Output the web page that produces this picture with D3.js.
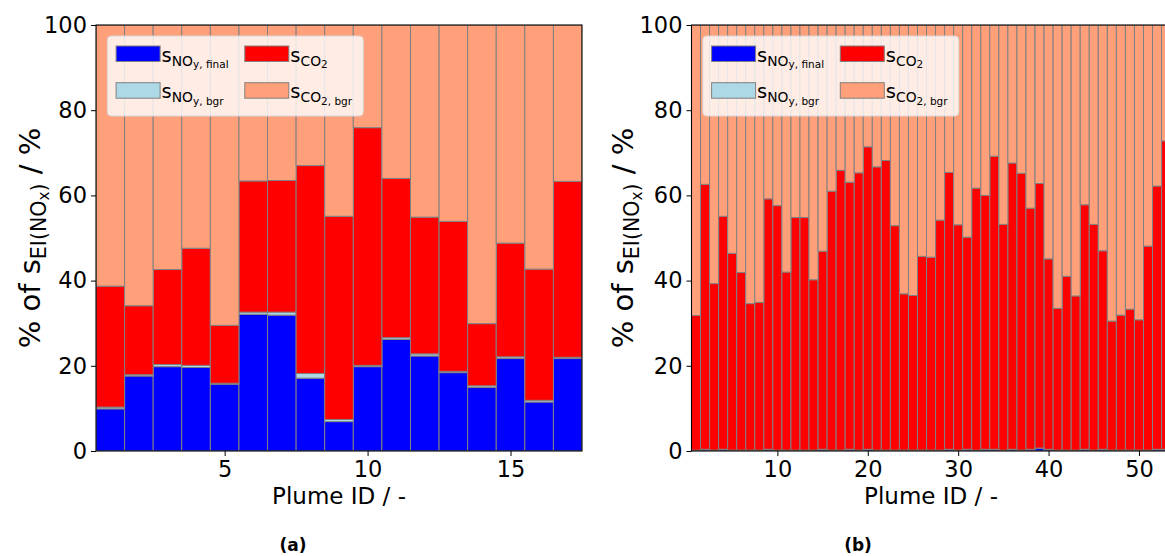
<!DOCTYPE html>
<html>
<head>
<meta charset="utf-8">
<script src="https://cdn.jsdelivr.net/npm/d3@7"></script>
<style>
  body { margin: 0; background: #fff; }
  svg { display: block; }
  text { font-family: "DejaVu Sans", sans-serif; fill: #000; white-space: pre; }
</style>
</head>
<body>
<svg id="fig" width="1165" height="556"></svg>
<script>
// ---- Panel (a): 17 plumes, shares in % of s_EI(NOx) ----
const plumesA = d3.range(1, 18);
const noyFinalA = [9.9, 17.6, 19.8, 19.6, 15.7, 32.1, 31.9, 17.1, 6.9, 19.8, 26.2, 22.3, 18.4, 14.9, 21.7, 11.5, 21.7];
const noyBgrA   = [0.4, 0.3, 0.5, 0.5, 0.2, 0.5, 0.7, 1.1, 0.5, 0.3, 0.4, 0.5, 0.3, 0.4, 0.4, 0.4, 0.3];
const co2A      = [28.4, 16.2, 22.3, 27.5, 13.6, 30.8, 30.9, 48.8, 47.7, 55.8, 37.4, 32.1, 35.2, 14.6, 26.7, 30.8, 41.3];
const co2BgrA   = [61.3, 65.9, 57.4, 52.4, 70.5, 36.6, 36.5, 33.0, 44.9, 24.1, 36.0, 45.1, 46.1, 70.1, 51.2, 57.3, 36.7];
const xTicksA   = [5, 10, 15];

// ---- Panel (b): 53 plumes ----
const plumesB = d3.range(1, 54);
const noyFinalB = [0.1, 0.3, 0.1, 0.3, 0.1, 0.1, 0.1, 0.1, 0.3, 0.1, 0.1, 0.1, 0.1, 0.1, 0.3, 0.1, 0.1, 0.3, 0.1, 0.3,
                   0.1, 0.1, 0.1, 0.1, 0.1, 0.1, 0.1, 0.1, 0.3, 0.1, 0.3, 0.1, 0.3, 0.3, 0.1, 0.3, 0.1, 0.3, 0.6, 0.3,
                   0.1, 0.1, 0.1, 0.3, 0.1, 0.3, 0.1, 0.1, 0.1, 0.1, 0.1, 0.3, 0.3];
const noyBgrB   = [0.1, 0.1, 0.1, 0.1, 0.1, 0.1, 0.1, 0.1, 0.1, 0.1, 0.1, 0.1, 0.1, 0.1, 0.1, 0.1, 0.1, 0.1, 0.1, 0.1,
                   0.1, 0.1, 0.1, 0.1, 0.1, 0.1, 0.1, 0.1, 0.1, 0.1, 0.1, 0.1, 0.1, 0.1, 0.1, 0.1, 0.1, 0.1, 0.1, 0.1,
                   0.1, 0.1, 0.1, 0.1, 0.1, 0.1, 0.1, 0.1, 0.1, 0.1, 0.1, 0.1, 0.1];
const co2B      = [31.6, 62.2, 39.1, 54.7, 46.2, 41.7, 34.4, 34.7, 58.8, 57.4, 41.8, 54.6, 54.6, 40.0, 46.5, 60.8, 65.7, 62.7, 65.1, 71.0,
                   66.5, 68.0, 52.7, 36.7, 36.3, 45.5, 45.3, 54.0, 65.0, 52.9, 49.8, 61.5, 59.6, 68.8, 53.0, 67.2, 65.0, 56.6, 62.1, 44.7,
                   33.3, 40.8, 36.2, 57.4, 53.0, 46.6, 30.3, 31.7, 33.1, 30.6, 47.9, 61.8, 72.4];
const co2BgrB   = [68.2, 37.4, 60.7, 44.9, 53.6, 58.1, 65.4, 65.1, 40.8, 42.4, 58.0, 45.2, 45.2, 59.8, 53.1, 39.0, 34.1, 36.9, 34.7, 28.6,
                   33.3, 31.8, 47.1, 63.1, 63.5, 54.3, 54.5, 45.8, 34.6, 46.9, 49.8, 38.3, 40.0, 30.8, 46.8, 32.4, 34.8, 43.0, 37.2, 54.9,
                   66.5, 59.0, 63.6, 42.2, 46.8, 53.0, 69.5, 68.1, 66.7, 69.2, 51.9, 37.8, 27.2];
const xTicksB   = [10, 20, 30, 40, 50];

const yTicks = [0, 20, 40, 60, 80, 100];

const keys = ["noyFinal", "noyBgr", "co2", "co2Bgr"];
const fillOf = { noyFinal: "#0000ff", noyBgr: "#add8e6", co2: "#ff0000", co2Bgr: "#ffa07a" };
const legendItems = [
  { key: "noyFinal", col: 0, row: 0, parts: [["s", 0], ["NO", 1], ["y, final", 2]] },
  { key: "co2",      col: 1, row: 0, parts: [["s", 0], ["CO", 1], ["2", 2]] },
  { key: "noyBgr",   col: 0, row: 1, parts: [["s", 0], ["NO", 1], ["y, bgr", 2]] },
  { key: "co2Bgr",   col: 1, row: 1, parts: [["s", 0], ["CO", 1], ["2, bgr", 2]] }
];

const svg = d3.select("#fig");

// Text with nested subscripts: level 0 = normal, 1 = subscript, 2 = sub-subscript
function richText(sel, parts, size, scale, drop) {
  let cur = 0;
  parts.forEach(([t, lv]) => {
    const off = drop[lv] * size;
    sel.append("tspan")
      .attr("font-size", (size * scale[lv]).toFixed(2))
      .attr("dy", (off - cur).toFixed(2))
      .text(t);
    cur = off;
  });
}

function drawPanel(cfg) {
  const { plumes, series, left, right, top, bottom, xTicks, ylabelX, caption, captionX } = cfg;
  const g = svg.append("g");

  const x = d3.scaleLinear().domain([0.5, plumes.length + 0.5]).range([left, right]);
  const y = d3.scaleLinear().domain([0, 100]).range([bottom, top]);

  const rows = plumes.map((p, i) => {
    const r = { plume: p };
    keys.forEach(k => { r[k] = series[k][i]; });
    return r;
  });
  const stacked = d3.stack().keys(keys)(rows);

  const clipId = "clip" + Math.round(left);
  g.append("clipPath").attr("id", clipId)
    .append("rect").attr("x", left).attr("y", top).attr("width", right - left).attr("height", bottom - top);

  const bars = g.append("g").attr("clip-path", `url(#${clipId})`);
  stacked.forEach(layer => {
    bars.append("g").selectAll("rect")
      .data(layer)
      .join("rect")
      .attr("x", d => x(d.data.plume - 0.5))
      .attr("width", d => x(d.data.plume + 0.5) - x(d.data.plume - 0.5))
      .attr("y", d => y(d[1]))
      .attr("height", d => y(d[0]) - y(d[1]))
      .attr("fill", fillOf[layer.key])
      .attr("stroke", "#808080")
      .attr("stroke-width", 1);
  });

  // axes
  const yAxis = d3.axisLeft(y).tickValues(yTicks).tickSize(5).tickPadding(4).tickFormat(d3.format("d"));
  const ya = g.append("g").attr("transform", `translate(${left},0)`).call(yAxis);
  const xAxis = d3.axisBottom(x).tickValues(xTicks).tickSize(5).tickPadding(5).tickFormat(d3.format("d"));
  const xa = g.append("g").attr("transform", `translate(0,${bottom})`).call(xAxis);
  [ya, xa].forEach(a => {
    a.select(".domain").remove();
    a.selectAll(".tick line").attr("stroke", "#000").attr("stroke-width", 1);
    a.selectAll(".tick text").attr("font-size", 22.5).attr("font-family", "DejaVu Sans, sans-serif").attr("fill", "#000");
  });

  // frame
  g.append("rect")
    .attr("x", left).attr("y", top).attr("width", right - left).attr("height", bottom - top)
    .attr("fill", "none").attr("stroke", "#000").attr("stroke-width", 1.1);

  // legend
  const lg = g.append("g").attr("transform", `translate(${left + 11.3},36)`);
  lg.append("rect")
    .attr("width", 256).attr("height", 80).attr("rx", 4)
    .attr("fill", "#fff").attr("fill-opacity", 0.8)
    .attr("stroke", "#d6d6d6").attr("stroke-width", 1);
  legendItems.forEach(it => {
    const px = 8.8 + it.col * 128.7;
    const py = 10 + it.row * 36.7;
    lg.append("rect")
      .attr("x", px).attr("y", py).attr("width", 44).attr("height", 15.5)
      .attr("fill", fillOf[it.key]).attr("stroke", "#808080").attr("stroke-width", 1);
    const t = lg.append("text").attr("x", px + 45.5).attr("y", py + 15.5).attr("font-size", 19.5);
    richText(t, it.parts, 19.5, [1, 0.71, 0.54], [0, 0.22, 0.33]);
  });

  // axis labels
  g.append("text")
    .attr("x", (left + right) / 2).attr("y", 504)
    .attr("text-anchor", "middle").attr("font-size", 23)
    .text("Plume ID / -");

  const yl = g.append("text")
    .attr("transform", `translate(${ylabelX},${(top + bottom) / 2}) rotate(-90)`)
    .attr("text-anchor", "middle").attr("font-size", 29);
  richText(yl, [["% of s", 0], ["EI(NO", 1], ["x", 2], [")", 1], [" / %", 0]], 29, [1, 0.71, 0.52], [0, 0.2, 0.3]);

  g.append("text")
    .attr("x", captionX).attr("y", 551)
    .attr("text-anchor", "middle")
    .attr("font-family", "Liberation Serif, serif")
    .attr("font-weight", "bold").attr("font-size", 17)
    .text(caption);
}

drawPanel({
  plumes: plumesA,
  series: { noyFinal: noyFinalA, noyBgr: noyBgrA, co2: co2A, co2Bgr: co2BgrA },
  left: 96, right: 582, top: 25, bottom: 451,
  xTicks: xTicksA, ylabelX: 40, caption: "(a)", captionX: 293
});

drawPanel({
  plumes: plumesB,
  series: { noyFinal: noyFinalB, noyBgr: noyBgrB, co2: co2B, co2Bgr: co2BgrB },
  left: 691.5, right: 1170.6, top: 25, bottom: 451,
  xTicks: xTicksB, ylabelX: 633, caption: "(b)", captionX: 858
});
</script>
</body>
</html>
